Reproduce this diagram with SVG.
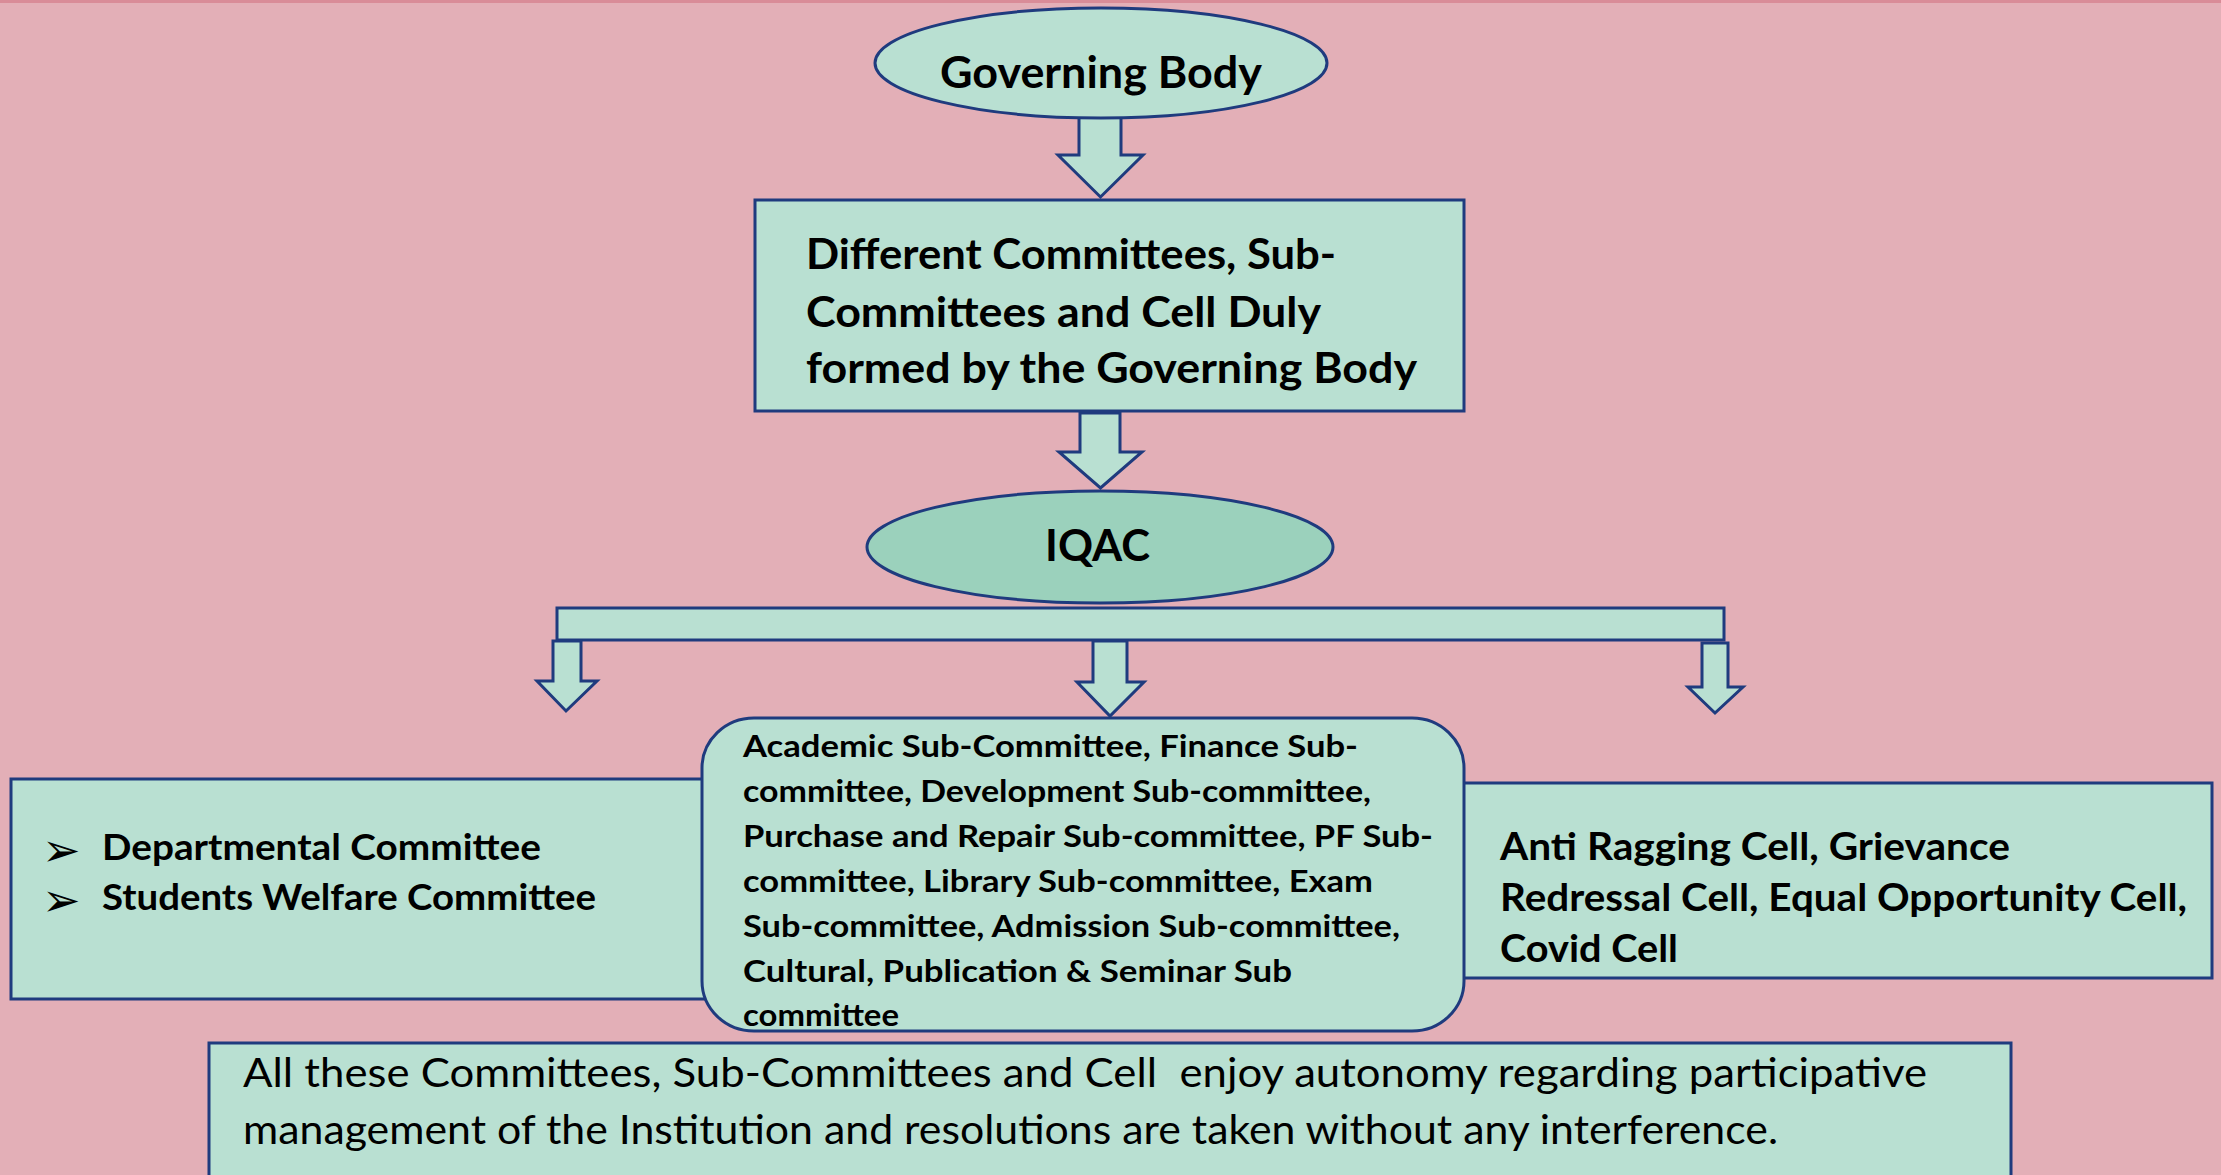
<svg xmlns="http://www.w3.org/2000/svg" width="2221" height="1175" viewBox="0 0 2221 1175">
<style>
.box{fill:#B9E0D2;stroke:#1F3B7E;stroke-width:3}
.arr{fill:#B9E0D2;stroke:#1F3B7E;stroke-width:3;stroke-linejoin:miter}
.b{font-family:Lato,"Liberation Sans",sans-serif;font-weight:700;fill:#000}
.r{font-family:Lato,"Liberation Sans",sans-serif;font-weight:400;fill:#000}
.bul{font-family:"DejaVu Sans",sans-serif;fill:#000}
</style>
<rect x="0" y="0" width="2221" height="1175" fill="#E3AFB7"/>
<rect x="0" y="0" width="2221" height="3" fill="#D98C98"/>

<g id="connectors">
  <polygon class="arr" points="1079,117 1121,117 1121,155 1143,155 1100.5,197 1058,155 1079,155"/>
  <polygon class="arr" points="1080,413 1120,413 1120,452 1142,452 1100.5,488 1059,452 1080,452"/>
  <rect class="arr" x="557" y="608" width="1167" height="32"/>
  <polygon class="arr" points="553,641 581,641 581,681 597,681 566,711 537,681 553,681"/>
  <polygon class="arr" points="1093,641 1127,641 1127,682 1144,682 1110,716 1077,682 1093,682"/>
  <polygon class="arr" points="1702,643 1728,643 1728,687 1743,687 1715,713 1688,687 1702,687"/>
</g>

<g id="governing-body">
  <ellipse class="box" cx="1101" cy="63" rx="226" ry="55"/>
  <text class="b" x="940" y="88" font-size="44" textLength="322" lengthAdjust="spacingAndGlyphs">Governing Body</text>
</g>

<g id="committees">
  <rect class="box" x="755" y="200" width="709" height="211"/>
  <text class="b" font-size="42">
    <tspan x="806" y="269" textLength="530" lengthAdjust="spacingAndGlyphs">Different Committees, Sub-</tspan>
    <tspan x="806" y="327" textLength="514" lengthAdjust="spacingAndGlyphs">Committees and Cell Duly</tspan>
    <tspan x="806" y="383" textLength="611" lengthAdjust="spacingAndGlyphs">formed by the Governing Body</tspan>
  </text>
</g>

<g id="iqac">
  <ellipse cx="1100" cy="547" rx="233" ry="56" fill="#9BD1BC" stroke="#1F3B7E" stroke-width="3"/>
  <text class="b" x="1045" y="561" font-size="44" textLength="105" lengthAdjust="spacingAndGlyphs">IQAC</text>
</g>

<g id="departmental">
  <rect class="box" x="11" y="779" width="720" height="220"/>
  <text class="bul" x="42" y="866" font-size="46">➢</text>
  <text class="bul" x="42" y="916" font-size="46">➢</text>
  <text class="b" x="102" y="860" font-size="37" textLength="439" lengthAdjust="spacingAndGlyphs">Departmental Committee</text>
  <text class="b" x="102" y="910" font-size="37" textLength="494" lengthAdjust="spacingAndGlyphs">Students Welfare Committee</text>
</g>

<g id="cells">
  <rect class="box" x="1440" y="783" width="772" height="195"/>
  <text class="b" font-size="38">
    <tspan x="1500" y="860" textLength="510" lengthAdjust="spacingAndGlyphs">Anti Ragging Cell, Grievance</tspan>
    <tspan x="1500" y="911" textLength="687" lengthAdjust="spacingAndGlyphs">Redressal Cell, Equal Opportunity Cell,</tspan>
    <tspan x="1500" y="962" textLength="178" lengthAdjust="spacingAndGlyphs">Covid Cell</tspan>
  </text>
</g>

<g id="sub-committees">
  <rect class="box" x="702" y="718" width="762" height="313" rx="52" ry="50"/>
  <text class="b" font-size="31">
    <tspan x="743" y="757" textLength="615" lengthAdjust="spacingAndGlyphs">Academic Sub-Committee, Finance Sub-</tspan>
    <tspan x="743" y="802" textLength="628" lengthAdjust="spacingAndGlyphs">committee, Development Sub-committee,</tspan>
    <tspan x="743" y="847" textLength="690" lengthAdjust="spacingAndGlyphs">Purchase and Repair Sub-committee, PF Sub-</tspan>
    <tspan x="743" y="892" textLength="630" lengthAdjust="spacingAndGlyphs">committee, Library Sub-committee, Exam</tspan>
    <tspan x="743" y="937" textLength="657" lengthAdjust="spacingAndGlyphs">Sub-committee, Admission Sub-committee,</tspan>
    <tspan x="743" y="982" textLength="549" lengthAdjust="spacingAndGlyphs">Cultural, Publication &amp; Seminar Sub</tspan>
    <tspan x="743" y="1026" textLength="156" lengthAdjust="spacingAndGlyphs">committee</tspan>
  </text>
</g>

<g id="autonomy-note">
  <rect class="box" x="209" y="1043" width="1802" height="150"/>
  <text class="r" font-size="40" xml:space="preserve"><tspan x="243" y="1087" textLength="1684" lengthAdjust="spacingAndGlyphs">All these Committees, Sub-Committees and Cell  enjoy autonomy regarding participative</tspan><tspan x="243" y="1144" textLength="1535" lengthAdjust="spacingAndGlyphs">management of the Institution and resolutions are taken without any interference.</tspan></text>
</g>
</svg>
